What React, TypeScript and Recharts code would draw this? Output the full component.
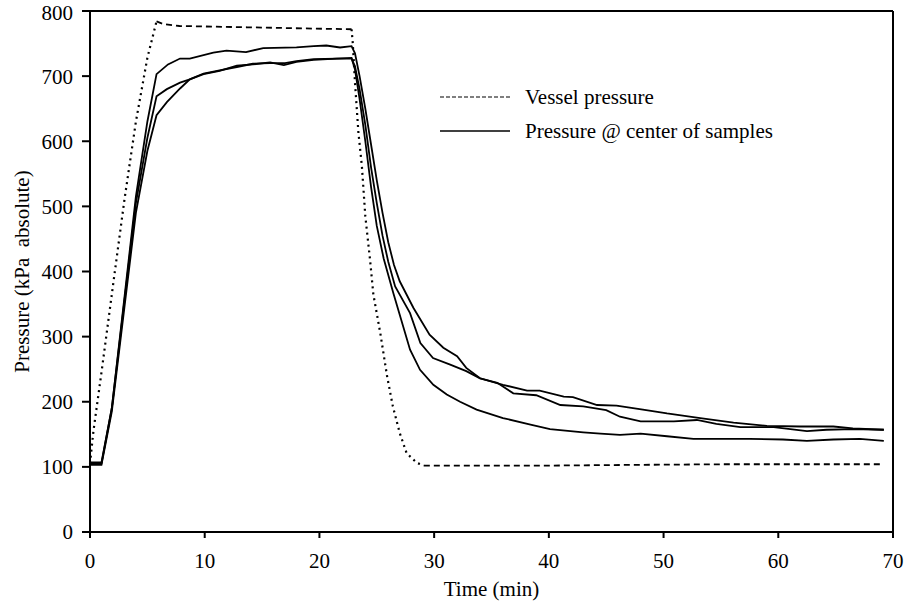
import React from "react"
import { LineChart, Line, XAxis, YAxis, ReferenceLine } from "recharts"

// vessel (chamber) pressure, kPa absolute
const vesselTime = [0, 0.3, 1, 2, 3, 4, 5, 5.8, 6.4, 7.8, 13.7, 19.5, 22.8, 22.9, 23.1, 23.4, 23.7, 24.0, 24.4, 24.7, 25.3, 25.9, 26.4, 27.0, 27.6, 28.5, 29.1, 35, 40, 47, 55, 62, 69]
const vesselKpa = [105, 155, 245, 378, 510, 630, 728, 784, 780, 777, 775, 773, 772, 752, 690, 613, 562, 485, 420, 365, 306, 239, 193, 152, 121, 106, 102, 102, 102, 103, 104, 104, 104]

// pressure at centre of samples, three runs
const runATime = [0, 1, 1.9, 3, 4, 5, 5.8, 6.8, 7.85, 8.7, 10.75, 11.9, 13.6, 15.1, 18, 19.5, 20.6, 21.8, 22.8, 23.1, 23.5, 24, 24.5, 25, 25.5, 26, 26.5, 27, 28.2, 29.6, 30.8, 32, 32.8, 34, 36, 38.1, 39.2, 41.3, 42.1, 44.2, 45.9, 48.2, 50.3, 53.2, 56.1, 59, 61.9, 64.8, 66.5, 69.2]
const runAKpa = [105, 105, 190, 360, 515, 630, 703, 718, 727, 727, 736, 739, 737, 743, 744, 746, 747, 744, 746, 735, 700, 650, 595, 540, 490, 445, 410, 385, 344, 303, 283, 270, 252, 236, 226, 217, 217, 208, 207, 195, 194, 188, 182, 175, 168, 163, 162, 162, 159, 157]

const runBTime = [0, 1, 1.9, 3, 4, 5, 5.8, 6.7, 7.85, 8.7, 9.9, 11.3, 12.8, 14.2, 15.7, 16.9, 18, 19.5, 21.5, 22.8, 23.1, 23.5, 24, 24.5, 25, 25.5, 26, 26.6, 27.9, 28.8, 29.9, 31.4, 32.8, 34, 35.5, 36.9, 38.9, 41, 43, 45, 46.2, 48, 50.9, 52.9, 54.6, 56.7, 59.6, 62.5, 64.2, 66.5, 69.2]
const runBKpa = [107, 107, 190, 355, 505, 605, 669, 680, 690, 695, 703, 708, 716, 718, 721, 717, 722, 725, 727, 727, 715, 680, 625, 560, 505, 455, 415, 377, 336, 290, 267, 257, 247, 236, 229, 213, 210, 195, 193, 187, 177, 170, 170, 172, 166, 161, 161, 155, 157, 158, 157]

const runCTime = [0, 1, 1.9, 3, 4, 5, 5.8, 6.7, 7.85, 8.7, 9.9, 11.3, 12.8, 14.2, 15.7, 17, 18, 19.5, 21.5, 22.8, 23.1, 23.5, 24, 24.5, 25, 25.6, 26.44, 27.9, 28.77, 29.93, 31.1, 32.26, 33.7, 36, 38.4, 40.1, 43, 44.5, 46.2, 48, 50.3, 52.6, 54.6, 57.5, 60.4, 62.5, 64.8, 67.1, 69.2]
const runCKpa = [103, 103, 185, 345, 490, 585, 640, 660, 681, 695, 704, 709, 714, 719, 720, 720, 723, 726, 727, 728, 710, 665, 600, 530, 470, 420, 367, 280, 249, 226, 211, 200, 188, 175, 165, 158, 153, 151, 149, 151, 147, 143, 143, 143, 142, 140, 142, 143, 140]

const xTicks = [0, 10, 20, 30, 40, 50, 60, 70]
const yTicks = [0, 100, 200, 300, 400, 500, 600, 700, 800]

const toRows = (time: number[], kpa: number[]) => time.map((t, i) => ({ t, p: kpa[i] }))

// the printed vessel trace looks dotted on the ramps and dashed on the holds
const isRamp = (t: number) => t <= 5.8 || (t >= 22.8 && t <= 29.1)
const isHold = (t: number) => (t >= 5.8 && t <= 22.8) || t >= 29.1

const vesselRows = toRows(vesselTime, vesselKpa)
const vesselRamp = vesselRows.map((r) => ({ t: r.t, p: isRamp(r.t) ? r.p : null }))
const vesselHold = vesselRows.map((r) => ({ t: r.t, p: isHold(r.t) ? r.p : null }))

const runs = [toRows(runATime, runAKpa), toRows(runBTime, runBKpa), toRows(runCTime, runCKpa)]

const font = "'Liberation Serif', 'Times New Roman', serif"
const fs = 21

function LegendBox() {
  const row = { display: "flex", alignItems: "center", height: 34 }
  return (
    <div style={{ position: "absolute", left: 440, top: 80, fontFamily: font, fontSize: fs, color: "#000" }}>
      <div style={row}>
        <svg width={85} height={10}>
          <line x1={0} y1={5} x2={70} y2={5} stroke="#000" strokeWidth={1.2} strokeDasharray="4 2" />
        </svg>
        <span>Vessel pressure</span>
      </div>
      <div style={row}>
        <svg width={85} height={10}>
          <line x1={0} y1={5} x2={70} y2={5} stroke="#000" strokeWidth={1.6} />
        </svg>
        <span>Pressure @ center of samples</span>
      </div>
    </div>
  )
}

export default function App() {
  return (
    <div style={{ position: "absolute", left: 0, top: 0, width: 913, height: 609, background: "#fff" }}>
      <LineChart width={913} height={609} margin={{ top: 11, right: 20, left: 0, bottom: 0 }}>
        <XAxis
          type="number"
          dataKey="t"
          domain={[0, 70]}
          ticks={xTicks}
          height={77}
          tickSize={6}
          tickMargin={15}
          stroke="#000"
          strokeWidth={2}
          tick={{ fill: "#000", fontSize: fs, fontFamily: font }}
          label={{ value: "Time (min)", position: "insideBottom", offset: 13, style: { fill: "#000", fontSize: fs, fontFamily: font } }}
        />
        <YAxis
          type="number"
          dataKey="p"
          domain={[0, 800]}
          ticks={yTicks}
          width={90}
          tickSize={8}
          tickMargin={9}
          stroke="#000"
          strokeWidth={2}
          tick={{ fill: "#000", fontSize: fs, fontFamily: font }}
          label={{
            value: "Pressure (kPa\u00A0 absolute)",
            angle: -90,
            position: "insideLeft",
            offset: 22,
            style: { textAnchor: "middle", fill: "#000", fontSize: fs, fontFamily: font },
          }}
        />
        <ReferenceLine y={800} stroke="#000" strokeWidth={2} />
        <ReferenceLine x={70} stroke="#000" strokeWidth={2} />
        <Line data={vesselRamp} dataKey="p" type="linear" stroke="#000" strokeWidth={2.2} strokeDasharray="2 4" dot={false} activeDot={false} isAnimationActive={false} />
        <Line data={vesselHold} dataKey="p" type="linear" stroke="#000" strokeWidth={1.8} strokeDasharray="6 4" dot={false} activeDot={false} isAnimationActive={false} />
        {runs.map((data, i) => (
          <Line key={i} data={data} dataKey="p" type="linear" stroke="#000" strokeWidth={1.8} dot={false} activeDot={false} isAnimationActive={false} />
        ))}
      </LineChart>
      <LegendBox />
    </div>
  )
}
